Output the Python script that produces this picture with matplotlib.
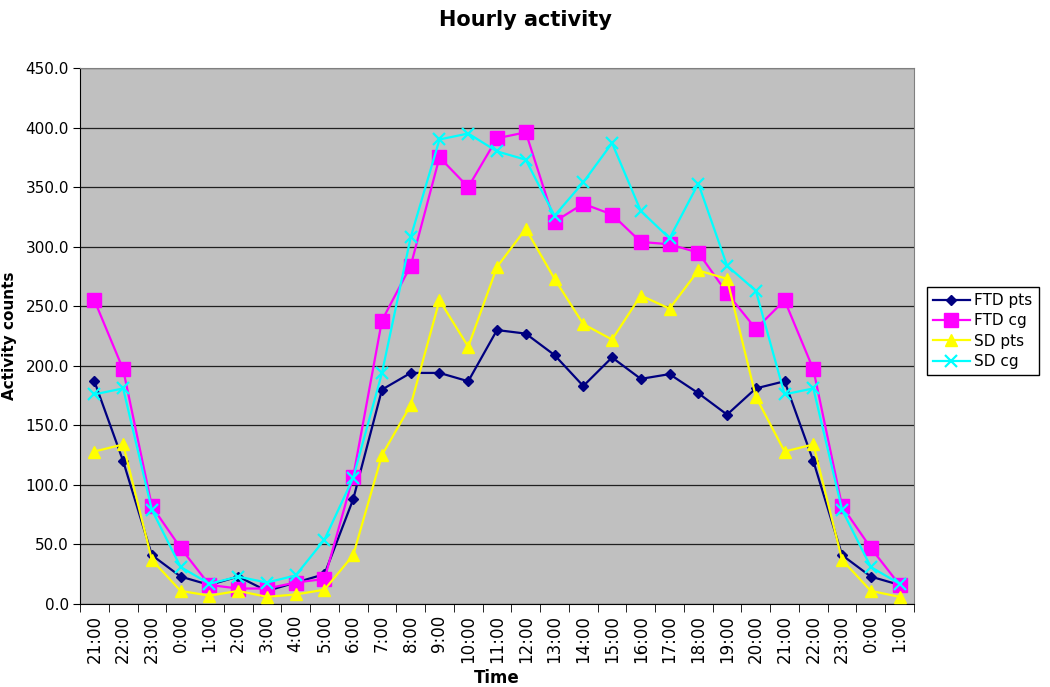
import matplotlib
matplotlib.use("Agg")
import matplotlib.pyplot as plt
import numpy as np

hours = ["21:00", "22:00", "23:00", "0:00", "1:00", "2:00", "3:00", "4:00", "5:00",
         "6:00", "7:00", "8:00", "9:00", "10:00", "11:00", "12:00", "13:00", "14:00",
         "15:00", "16:00", "17:00", "18:00", "19:00", "20:00", "21:00", "22:00",
         "23:00", "0:00", "1:00"]

ftd_pts = [187, 120, 41, 23, 16, 23, 11, 18, 25, 88, 180, 194, 194, 187, 230, 227,
           209, 183, 207, 189, 193, 177, 159, 181, 187, 120, 41, 23, 16]
ftd_cg = [255, 197, 82, 47, 16, 13, 13, 18, 21, 107, 238, 284, 375, 350, 391, 396,
          321, 336, 327, 304, 302, 295, 261, 231, 255, 197, 82, 47, 16]
sd_pts = [128, 134, 37, 11, 7, 11, 6, 8, 12, 41, 125, 167, 255, 216, 283, 315,
          273, 235, 222, 259, 248, 280, 273, 174, 128, 134, 37, 11, 6]
sd_cg = [176, 181, 79, 31, 17, 23, 18, 24, 54, 106, 194, 308, 390, 395, 380, 373,
         326, 354, 387, 330, 307, 353, 284, 263, 176, 181, 79, 31, 17]

fig = plt.figure(figsize=(10.5, 6.87), dpi=100)
ax = fig.add_axes([80/1050, 1-604/687, (914-80)/1050, (604-68)/687])
ax.set_facecolor("#C0C0C0")

x = np.arange(len(hours))
ax.plot(x, ftd_pts, color="#000080", marker="D", markersize=5, lw=1.6, label="FTD pts", zorder=3)
ax.plot(x, ftd_cg, color="#FF00FF", marker="s", markersize=9.5, lw=1.6, label="FTD cg", zorder=3)
ax.plot(x, sd_pts, color="#FFFF00", marker="^", markersize=8, lw=1.6, label="SD pts", zorder=3)
ax.plot(x, sd_cg, color="#00FFFF", marker="x", markersize=9, mew=1.6, lw=1.6, label="SD cg", zorder=3)

ax.set_xlim(-0.5, len(hours) - 0.5)
ax.set_ylim(0, 450)
ax.set_yticks(np.arange(0, 451, 50))
ax.set_yticklabels([f"{v:.1f}" for v in np.arange(0, 451, 50)], fontsize=11)
ax.yaxis.grid(True, color="#202020", lw=0.9)
ax.set_axisbelow(True)

ax.set_xticks(x)
ax.set_xticklabels(hours, rotation=90, fontsize=12)
ax.tick_params(axis="x", length=0, pad=8)
ax.set_xticks(np.arange(-0.5, len(hours), 1), minor=True)
ax.tick_params(axis="x", which="minor", length=6, direction="out", color="#000000")
ax.tick_params(axis="y", length=5, direction="out", pad=3)

for s in ["top", "right"]:
    ax.spines[s].set_color("#808080")
for s in ["left", "bottom"]:
    ax.spines[s].set_color("#000000")

ax.set_xlabel("Time", fontsize=12, fontweight="bold", labelpad=4)
ax.set_ylabel("Activity counts", fontsize=11, fontweight="bold", labelpad=6)
fig.suptitle("Hourly activity", fontsize=15, fontweight="bold", y=0.985)

leg = fig.legend(loc="upper left", bbox_to_anchor=(927/1050, 1-287/687), fontsize=11,
                 frameon=True, fancybox=False, edgecolor="#000000", framealpha=1,
                 borderpad=0.4, labelspacing=0.35, handlelength=2.4, handletextpad=0.3,
                 borderaxespad=0)
leg.get_frame().set_linewidth(1.0)

fig.savefig("out.png", dpi=100)
